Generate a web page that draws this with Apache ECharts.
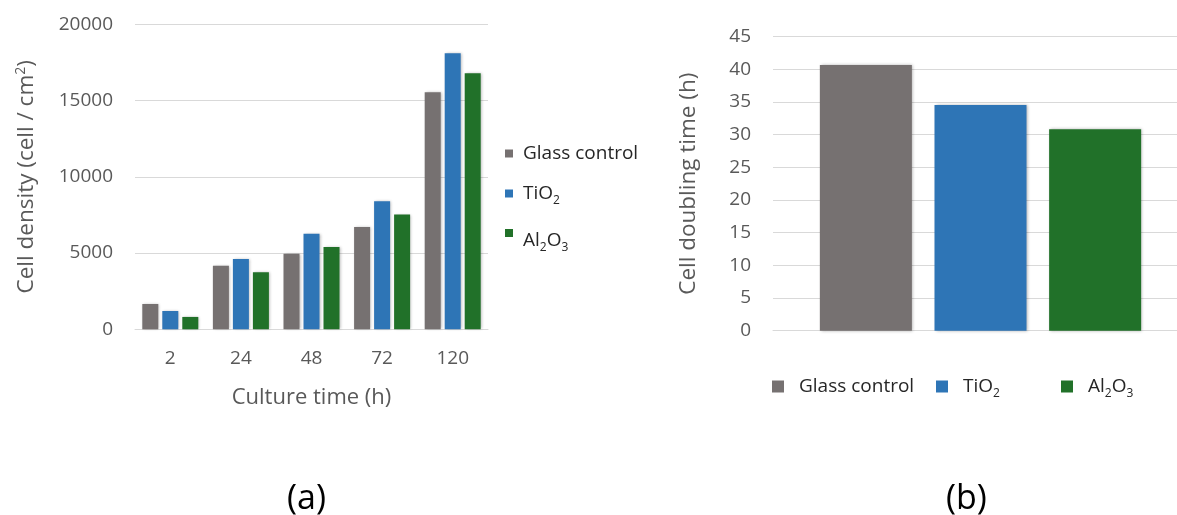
<!DOCTYPE html>
<html>
<head>
<meta charset="utf-8">
<script src="https://cdn.jsdelivr.net/npm/echarts@6/dist/echarts.min.js"></script>
<style>
html,body{margin:0;padding:0;background:#fff;}
#chart{width:1177px;height:515px;}
</style>
</head>
<body>
<div id="chart"></div>
<script>
// ---- data ----
const categories = ['2', '24', '48', '72', '120'];
const seriesNames = ['Glass control', 'TiO2', 'Al2O3'];
const glassDensity = [1660, 4170, 4960, 6710, 15540];
const tio2Density = [1200, 4610, 6270, 8390, 18100];
const al2o3Density = [810, 3740, 5400, 7520, 16790];
const doublingTime = [40.66, 34.54, 30.82]; // Glass control, TiO2, Al2O3
const densityAxis = { min: 0, max: 20000, interval: 5000 };
const doublingAxis = { min: 0, max: 45, interval: 5 };
const panelLabels = ['(a)', '(b)'];

// ---- styles ----
const colors = ['#767171', '#2E75B6', '#217129'];
const FONT = 'Open Sans';
const axisGray = '#595959';
const gridGray = '#d9d9d9';

const richLegend = {
  n: { fontFamily: FONT, fontSize: 19, color: '#262626' },
  s: { fontFamily: FONT, fontSize: 12, color: '#262626', padding: [14, 0, 0, 0] }
};
function legendFmt(name) {
  if (name === 'TiO2') return '{n|TiO}{s|2}';
  if (name === 'Al2O3') return '{n|Al}{s|2}{n|O}{s|3}';
  return '{n|' + name + '}';
}
function mkLegend(name, left, top, size, gap, extraTop) {
  return {
    data: [name], left: left, top: top, padding: 0,
    icon: 'rect', itemWidth: size, itemHeight: size,
    formatter: legendFmt,
    selectedMode: false,
    textStyle: { fontFamily: FONT, fontSize: 19, color: '#262626', padding: [extraTop || 0, 0, 0, gap], rich: richLegend }
  };
}

const shadow = { shadowBlur: 3, shadowColor: 'rgba(0,0,0,0.3)', shadowOffsetX: 1, shadowOffsetY: 0 };

const series = [];
const densityData = [glassDensity, tio2Density, al2o3Density];
seriesNames.forEach((nm, i) => {
  series.push({
    name: nm, type: 'bar', xAxisIndex: 0, yAxisIndex: 0,
    data: densityData[i], barWidth: 16, barGap: '25%',
    itemStyle: Object.assign({ color: colors[i] }, shadow)
  });
});
seriesNames.forEach((nm, i) => {
  series.push({
    name: nm, type: 'bar', xAxisIndex: 1, yAxisIndex: 1,
    data: [doublingTime[i]], barWidth: 92, barGap: '24.6%',
    itemStyle: Object.assign({ color: colors[i] }, shadow)
  });
});

const plainNum = v => String(v);

const chart = echarts.init(document.getElementById('chart'), null, { renderer: 'canvas' });
chart.setOption({
  animation: false,
  backgroundColor: '#fff',
  grid: [
    { left: 135, width: 353, top: 24.3, height: 305, containLabel: false, outerBoundsMode: 'none' },
    { left: 773, width: 415, top: 36.7, height: 294, containLabel: false, outerBoundsMode: 'none' }
  ],
  xAxis: [
    {
      gridIndex: 0, type: 'category', data: categories,
      axisLine: { show: true, lineStyle: { color: gridGray, width: 1 } },
      axisTick: { show: false },
      axisLabel: { fontFamily: FONT, fontSize: 19, color: axisGray, margin: 20 },
      name: 'Culture time (h)', nameLocation: 'middle', nameGap: 57,
      nameTextStyle: { fontFamily: FONT, fontSize: 22, color: axisGray }
    },
    {
      gridIndex: 1, type: 'category', data: [''],
      axisLine: { show: true, lineStyle: { color: gridGray, width: 1 } },
      axisTick: { show: false },
      axisLabel: { show: false }
    }
  ],
  yAxis: [
    {
      gridIndex: 0, type: 'value', min: densityAxis.min, max: densityAxis.max, interval: densityAxis.interval,
      axisLine: { show: false }, axisTick: { show: false },
      splitLine: { lineStyle: { color: gridGray, width: 1 } },
      axisLabel: { fontFamily: FONT, fontSize: 19, color: axisGray, margin: 22, formatter: plainNum },
      name: 'Cell density (cell / cm{sup|2})', nameLocation: 'middle', nameGap: 95, nameRotate: 90,
      nameTextStyle: {
        fontFamily: FONT, fontSize: 22.5, color: axisGray,
        rich: {
          sup: { fontFamily: FONT, fontSize: 14, color: axisGray, padding: [0, 0, 12, 0] }
        }
      }
    },
    {
      gridIndex: 1, type: 'value', min: doublingAxis.min, max: doublingAxis.max, interval: doublingAxis.interval,
      axisLine: { show: false }, axisTick: { show: false },
      splitLine: { lineStyle: { color: gridGray, width: 1 } },
      axisLabel: { fontFamily: FONT, fontSize: 19, color: axisGray, margin: 22, formatter: plainNum },
      name: 'Cell doubling time (h)', nameLocation: 'middle', nameGap: 73, nameRotate: 90,
      nameTextStyle: { fontFamily: FONT, fontSize: 22.5, color: axisGray }
    }
  ],
  legend: [
    mkLegend('Glass control', 505, 144, 8, 5),
    mkLegend('TiO2', 505, 184, 8, 5),
    mkLegend('Al2O3', 505, 229, 8, 5, 16),
    mkLegend('Glass control', 772, 377, 12, 10),
    mkLegend('TiO2', 936, 377, 12, 10),
    mkLegend('Al2O3', 1061, 377, 12, 10)
  ],
  graphic: [
    { type: 'text', left: 287, top: 482, style: { text: panelLabels[0], fontFamily: FONT, fontSize: 34, fill: '#000' } },
    { type: 'text', left: 946, top: 482, style: { text: panelLabels[1], fontFamily: FONT, fontSize: 34, fill: '#000' } }
  ],
  series: series
});
</script>
</body>
</html>
